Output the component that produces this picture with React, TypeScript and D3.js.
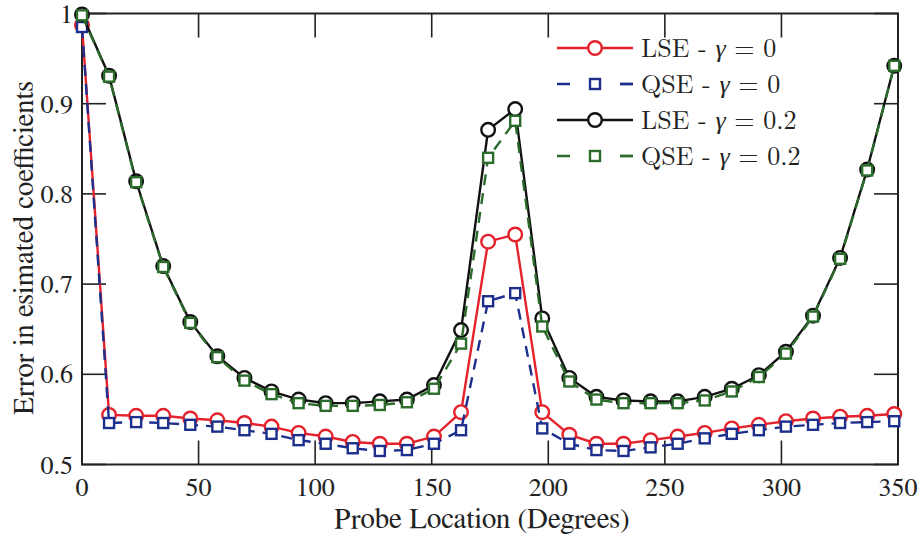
import React from "react";
import * as d3 from "d3";

const W = 920;
const H = 541;

const probeCount = 31;
const probeStep = 360 / 31;

const lse0: number[] = [0.987, 0.555, 0.554, 0.554, 0.551, 0.549, 0.546, 0.542, 0.535, 0.531, 0.525, 0.523, 0.523, 0.531, 0.558, 0.747, 0.755, 0.558, 0.533, 0.523, 0.523, 0.527, 0.531, 0.535, 0.540, 0.544, 0.548, 0.551, 0.553, 0.554, 0.556];
const qse0: number[] = [0.985, 0.546, 0.547, 0.546, 0.544, 0.542, 0.538, 0.534, 0.527, 0.523, 0.518, 0.515, 0.516, 0.523, 0.538, 0.681, 0.690, 0.540, 0.523, 0.516, 0.515, 0.519, 0.523, 0.529, 0.534, 0.538, 0.542, 0.544, 0.546, 0.547, 0.548];
const lse02: number[] = [0.999, 0.931, 0.814, 0.720, 0.658, 0.620, 0.596, 0.581, 0.572, 0.568, 0.568, 0.570, 0.572, 0.588, 0.649, 0.871, 0.894, 0.662, 0.596, 0.575, 0.571, 0.570, 0.570, 0.575, 0.584, 0.599, 0.625, 0.665, 0.729, 0.827, 0.942];
const qse02: number[] = [0.998, 0.930, 0.813, 0.719, 0.657, 0.619, 0.593, 0.578, 0.568, 0.565, 0.565, 0.566, 0.569, 0.584, 0.634, 0.840, 0.881, 0.653, 0.592, 0.572, 0.568, 0.568, 0.568, 0.571, 0.581, 0.597, 0.623, 0.664, 0.728, 0.826, 0.942];

const xTicks = [0, 50, 100, 150, 200, 250, 300, 350];
const yTicks = [0.5, 0.6, 0.7, 0.8, 0.9, 1];
const yTickLabels = ["0.5", "0.6", "0.7", "0.8", "0.9", "1"];

const seriesNames = ["LSE", "QSE", "LSE", "QSE"];
const seriesGammas = ["0", "0", "0.2", "0.2"];

type Series = {
  values: number[];
  color: string;
  dash: string | undefined;
  marker: "circle" | "square";
};

const series: Series[] = [
  { values: lse0, color: "#e3222b", dash: undefined, marker: "circle" },
  { values: qse0, color: "#1c2f8c", dash: "11,8", marker: "square" },
  { values: lse02, color: "#111111", dash: undefined, marker: "circle" },
  { values: qse02, color: "#2b6b2b", dash: "11,8", marker: "square" },
];

const M = { left: 82, right: 898, top: 13.5, bottom: 464.5 };

const TS: React.CSSProperties = { fontFamily: '"FreeSerif"' };
const LM: React.CSSProperties = { fontFamily: '"Latin Modern Roman"' };

function Marker({ kind, x, y, color }: { kind: string; x: number; y: number; color: string }) {
  if (kind === "circle") {
    return <circle cx={x} cy={y} r={6.8} fill="white" stroke={color} strokeWidth={2.4} />;
  }
  const s = 10;
  return <rect x={x - s / 2} y={y - s / 2} width={s} height={s} fill="white" stroke={color} strokeWidth={2.4} />;
}

export default function App() {
  const x = d3.scaleLinear().domain([0, 350]).range([M.left, M.right]);
  const y = d3.scaleLinear().domain([0.5, 1]).range([M.bottom, M.top]);
  const xs = d3.range(probeCount).map((i) => i * probeStep);

  const line = d3
    .line<number>()
    .x((_, i) => x(xs[i]))
    .y((d) => y(d));

  const tickLen = 24;
  const legendX0 = 557;
  const legendX1 = 633;
  const legendRows = [48, 84, 120, 156];

  return (
    <svg
      width={W}
      height={H}
      viewBox={`0 0 ${W} ${H}`}
      style={{ position: "absolute", left: 0, top: 0, background: "white" }}
    >
      <rect x={0} y={0} width={W} height={H} fill="white" />
      {xTicks.map((t) => (
        <g key={"xt" + t}>
          <line x1={x(t)} x2={x(t)} y1={M.bottom} y2={M.bottom - tickLen} stroke="#222" strokeWidth={1.6} />
          <line x1={x(t)} x2={x(t)} y1={M.top} y2={M.top + tickLen} stroke="#222" strokeWidth={1.6} />
          <text x={x(t)} y={496} fontSize={26} textAnchor="middle" fill="#222" style={TS}>
            {String(t)}
          </text>
        </g>
      ))}
      {yTicks.map((t, i) => (
        <g key={"yt" + t}>
          <line x1={M.left} x2={M.left + tickLen} y1={y(t)} y2={y(t)} stroke="#222" strokeWidth={1.6} />
          <line x1={M.right} x2={M.right - tickLen} y1={y(t)} y2={y(t)} stroke="#222" strokeWidth={1.6} />
          <text x={73} y={y(t) + 9} fontSize={26} textAnchor="end" fill="#222" style={TS}>
            {yTickLabels[i]}
          </text>
        </g>
      ))}
      <rect x={M.left} y={M.top} width={M.right - M.left} height={M.bottom - M.top} fill="none" stroke="#222" strokeWidth={2} />

      {series.map((s, si) => (
        <g key={"s" + si}>
          <path d={line(s.values) || ""} fill="none" stroke={s.color} strokeWidth={2.4} strokeDasharray={s.dash} />
          {s.values.map((v, i) => (
            <Marker key={i} kind={s.marker} x={x(xs[i])} y={y(v)} color={s.color} />
          ))}
        </g>
      ))}

      {series.map((s, si) => {
        const ly = legendRows[si];
        return (
          <g key={"l" + si}>
            <line x1={legendX0} x2={legendX1} y1={ly} y2={ly} stroke={s.color} strokeWidth={2.4} strokeDasharray={s.dash ? "13,50" : undefined} />
            {s.dash ? (
              <line x1={legendX1 - 13} x2={legendX1} y1={ly} y2={ly} stroke={s.color} strokeWidth={2.4} />
            ) : null}
            <Marker kind={s.marker} x={(legendX0 + legendX1) / 2} y={ly} color={s.color} />
            <text x={641} y={ly + 8.5} fontSize={26} fill="#222" style={LM}>
              {seriesNames[si]} - <tspan fontStyle="italic">γ</tspan> = {seriesGammas[si]}
            </text>
          </g>
        );
      })}

      <text x={482} y={528} fontSize={29} textAnchor="middle" fill="#222" style={TS}>
        Probe Location (Degrees)
      </text>
      <text transform={`translate(33, 248) rotate(-90)`} fontSize={29} textAnchor="middle" fill="#222" style={TS}>
        Error in esimated coefficients
      </text>
    </svg>
  );
}
